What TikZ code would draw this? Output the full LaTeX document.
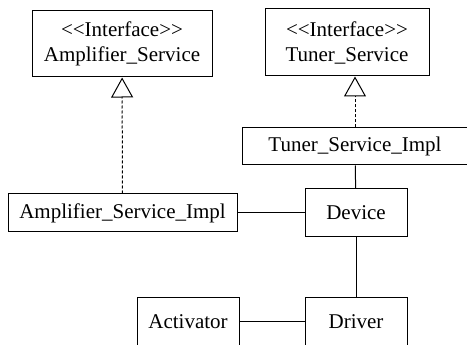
\documentclass[tikz,border=0pt]{standalone}
\usepackage{fontspec}
\setmainfont{Liberation Serif}[Ligatures=TeXOff]
\usepackage{tikz}
\usetikzlibrary{
    arrows.meta,
    shapes
}

\begin{document}
\begin{tikzpicture}[x=1pt, y=-1pt, line width=1pt,
    umlbox/.style={draw, rectangle, align=center, inner sep=0pt, font=\fontsize{21}{25}\selectfont},
    realizes/.style={dash pattern=on 3pt off 2pt, -{Triangle[open, length=20pt, width=22pt, line width=1pt]}}]
                \useasboundingbox (0, 0) rectangle (467, 345);
                \node[umlbox, minimum width=180pt, minimum height=66pt] (amp service) at (122, 44) {<\kern0pt<Interface>\kern0pt>\\Amplifier\_Service};
                \node[umlbox, minimum width=164pt, minimum height=67pt] (tuner service) at (347, 42.5) {<\kern0pt<Interface>\kern0pt>\\Tuner\_Service};
                \node[umlbox, minimum width=225pt, minimum height=37pt] (tuner impl) at (355, 146.5) {Tuner\_Service\_Impl};
                \node[umlbox, minimum width=229pt, minimum height=38pt] (amp impl) at (122.5, 213) {Amplifier\_Service\_Impl};
                \node[umlbox, minimum width=102pt, minimum height=48pt] (device) at (356, 213) {Device};
                \node[umlbox, minimum width=102pt, minimum height=48pt] (activator) at (188, 322) {Activator};
                \node[umlbox, minimum width=102pt, minimum height=48pt] (driver) at (356, 322) {Driver};

                \draw[realizes] (amp impl)--(amp service);
                \draw[realizes] (tuner impl.north)--(tuner impl.north |- tuner service.south);
                \draw (amp impl)--(device);
                \draw (tuner impl)--(device);
                \draw (device)--(driver);
                \draw (activator)--(driver);
            \end{tikzpicture}
\end{document}
